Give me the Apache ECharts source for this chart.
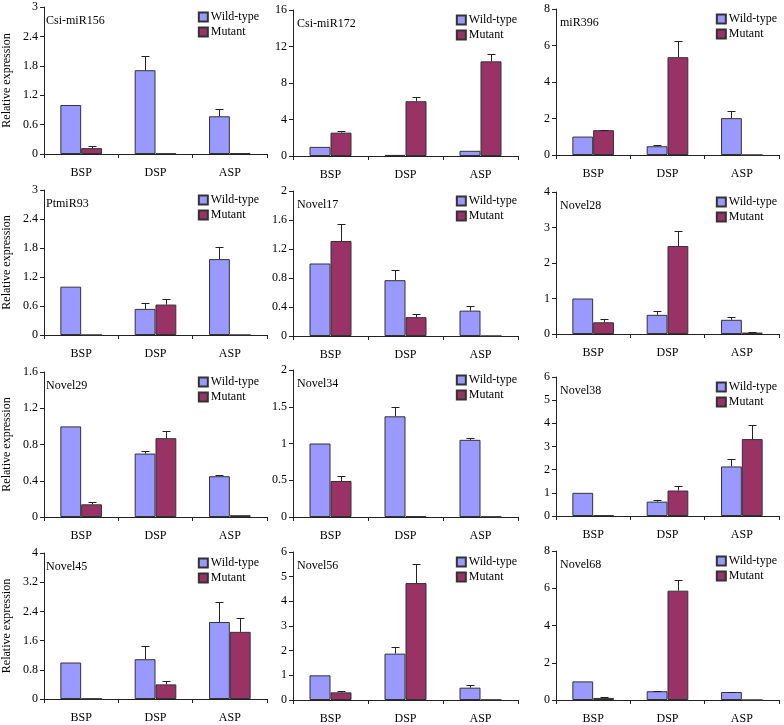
<!DOCTYPE html>
<html>
<head>
<meta charset="utf-8">
<script src="https://cdn.jsdelivr.net/npm/echarts@6/dist/echarts.min.js"></script>
<style>html,body{margin:0;padding:0;background:#fff}#c{width:784px;height:725px}</style>
</head>
<body>
<div id="c"></div>
<script>
const categories = ['BSP', 'DSP', 'ASP'];
const seriesNames = ['Wild-type', 'Mutant'];
const panelNames = ['Csi-miR156', 'Csi-miR172', 'miR396', 'PtmiR93', 'Novel17', 'Novel28',
                    'Novel29', 'Novel34', 'Novel38', 'Novel45', 'Novel56', 'Novel68'];
const yMax  = [3, 16, 8, 3, 2, 4, 1.6, 2, 6, 4, 6, 8];
const yStep = [0.6, 4, 2, 0.6, 0.4, 1, 0.4, 0.5, 1, 0.8, 1, 2];
const wildValues = [
  [1.0, 1.71, 0.77], [1.0, 0.12, 0.57], [1.01, 0.48, 2.02],
  [1.0, 0.54, 1.57], [1.0, 0.77, 0.35], [1.0, 0.54, 0.40],
  [1.0, 0.70, 0.45], [1.0, 1.37, 1.05], [1.0, 0.62, 2.14],
  [1.0, 1.09, 2.11], [1.0, 1.88, 0.50], [1.0, 0.47, 0.43]];
const wildErrors = [
  [0, 0.30, 0.14], [0, 0, 0], [0, 0.07, 0.37],
  [0, 0.13, 0.26], [0, 0.14, 0.07], [0, 0.10, 0.07],
  [0, 0.03, 0.01], [0, 0.12, 0.03], [0, 0.09, 0.34],
  [0, 0.36, 0.55], [0, 0.28, 0.11], [0, 0.03, 0.02]];
const mutantValues = [
  [0.12, 0.01, 0.02], [2.56, 6.0, 10.37], [1.36, 5.36, 0],
  [0, 0.63, 0], [1.31, 0.26, 0], [0.33, 2.48, 0.04],
  [0.14, 0.87, 0.02], [0.49, 0.01, 0.005], [0.03, 1.10, 3.32],
  [0.01, 0.40, 1.84], [0.31, 4.74, 0.01], [0.11, 5.87, 0]];
const mutantErrors = [
  [0.05, 0, 0], [0.22, 0.52, 0.80], [0.03, 0.88, 0],
  [0, 0.12, 0], [0.24, 0.05, 0], [0.08, 0.41, 0.02],
  [0.03, 0.08, 0], [0.07, 0, 0], [0, 0.18, 0.59],
  [0, 0.10, 0.38], [0.07, 0.77, 0], [0.03, 0.57, 0]];

const FONT = '"Liberation Serif", "Times New Roman", serif';
const colLeft = [42, 293, 556];
const colWidth = [225, 225, 223];
const legendRightEdge = [259, 517, 777];
const panelTop = [7, 10, 9, 190, 191, 192, 372, 370, 377, 553, 552, 551];
const panelBottom = [154, 156, 155, 335, 336, 334, 517, 517, 516, 699, 700, 700];
const GAP = 0.44;
const colors = ['#9999FF', '#993366'];

function errRender(sign) {
  return function (params, api) {
    const x = api.value(0), v = api.value(1), e = api.value(2);
    if (!(e > 0)) return null;
    const band = api.size([1, 0])[0];
    const bw = band * (1 - GAP) / 2;
    const base = api.coord([x, v]);
    const top = api.coord([x, v + e]);
    const cx = Math.round(base[0] + sign * bw / 2) + 0.5;
    const ty = Math.round(top[1]) + 0.5;
    return {
      type: 'group',
      children: [
        { type: 'line', shape: { x1: cx, y1: base[1], x2: cx, y2: ty }, style: { stroke: '#222', lineWidth: 1 } },
        { type: 'line', shape: { x1: cx - 4, y1: ty, x2: cx + 4, y2: ty }, style: { stroke: '#222', lineWidth: 1 } }
      ]
    };
  };
}

const grid = [], xAxis = [], yAxis = [], series = [], legend = [], title = [];
for (let i = 0; i < 12; i++) {
  const col = i % 3;
  const top = panelTop[i], h = panelBottom[i] - panelTop[i];
  grid.push({ left: colLeft[col], top: top, width: colWidth[col], height: h, containLabel: false });
  xAxis.push({
    type: 'category', gridIndex: i, data: categories,
    axisLine: { lineStyle: { color: '#222', width: 1 } },
    axisTick: { show: true, length: 4, inside: false, lineStyle: { color: '#222' } },
    axisLabel: { color: '#000', fontFamily: FONT, fontSize: 12, margin: 13 },
    splitLine: { show: false }
  });
  yAxis.push({
    type: 'value', gridIndex: i, min: 0, max: yMax[i], interval: yStep[i],
    name: col === 0 ? 'Relative expression' : '',
    nameLocation: 'middle', nameGap: 31, nameRotate: 90,
    nameTextStyle: { color: '#000', fontFamily: FONT, fontSize: 12 },
    axisLine: { show: true, lineStyle: { color: '#222', width: 1 } },
    axisTick: { show: true, length: 4, inside: false, lineStyle: { color: '#222' } },
    axisLabel: { color: '#000', fontFamily: FONT, fontSize: 12, margin: 6 },
    splitLine: { show: false }
  });
  const vals = [wildValues[i], mutantValues[i]];
  const errs = [wildErrors[i], mutantErrors[i]];
  for (let s = 0; s < 2; s++) {
    series.push({
      type: 'bar', name: seriesNames[s], xAxisIndex: i, yAxisIndex: i,
      data: vals[s], barGap: '0%', barCategoryGap: (GAP * 100) + '%',
      itemStyle: { color: colors[s], borderColor: '#333', borderWidth: 1 },
      emphasis: { disabled: true }, animation: false
    });
  }
  for (let s = 0; s < 2; s++) {
    series.push({
      type: 'custom', xAxisIndex: i, yAxisIndex: i, z: 5,
      renderItem: errRender(s === 0 ? -1 : 1),
      data: categories.map((c, k) => [k, vals[s][k], errs[s][k]]),
      encode: { x: 0, y: 1 }, animation: false, silent: true
    });
  }
  legend.push({
    orient: 'vertical', right: 784 - legendRightEdge[col], top: top + 4,
    padding: 0, itemWidth: 9, itemHeight: 9, itemGap: 3, icon: 'rect',
    data: seriesNames, selectedMode: false,
    textStyle: { color: '#000', fontFamily: FONT, fontSize: 12, padding: [0, 0, 0, -2] }
  });
  title.push({
    text: panelNames[i], left: colLeft[col] + 4, top: top + 8, padding: 0,
    textStyle: { color: '#000', fontFamily: FONT, fontSize: 12, fontWeight: 'normal' }
  });
}

const chart = echarts.init(document.getElementById('c'), null, { renderer: 'canvas' });
chart.setOption({
  backgroundColor: '#fff', animation: false,
  title, legend, grid, xAxis, yAxis, series
});
</script>
</body>
</html>
